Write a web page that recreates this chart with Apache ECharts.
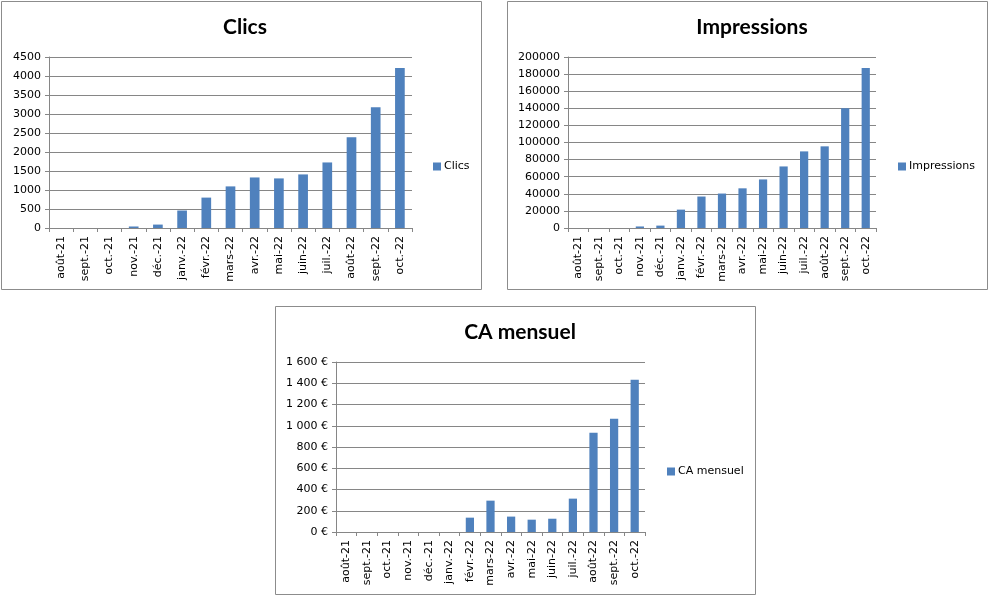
<!DOCTYPE html>
<html>
<head>
<meta charset="utf-8">
<script src="https://cdn.jsdelivr.net/npm/echarts@6/dist/echarts.min.js"></script>
<style>
  html, body { margin: 0; padding: 0; background: #fff; }
  #chart { width: 1002px; height: 605px; }
</style>
</head>
<body>
<div id="chart"></div>
<script>
const months = ['août-21', 'sept.-21', 'oct.-21', 'nov.-21', 'déc.-21', 'janv.-22', 'févr.-22',
    'mars-22', 'avr.-22', 'mai-22', 'juin-22', 'juil.-22', 'août-22', 'sept.-22', 'oct.-22'];
const clics = [0, 0, 0, 40, 90, 460, 800, 1095, 1330, 1305, 1410, 1725, 2390, 3180, 4210];
const impressions = [0, 0, 0, 1800, 2800, 21500, 36800, 40300, 46400, 56800, 72000, 89600, 95500, 140000, 187000];
const caMensuel = [0, 0, 0, 0, 0, 0, 135, 295, 145, 116, 125, 314, 935, 1067, 1434];

const barColor = '#4F81BD';
const lineColor = '#868686';
const axisFont = { fontFamily: 'DejaVu Sans', fontSize: 11, color: '#000' };

function plain(v) {
    return String(v);
}

function euro(v) {
    const s = v >= 1000 ? Math.floor(v / 1000) + ' ' + String(v % 1000).padStart(3, '0') : String(v);
    return s + ' €';
}

function xAxis(idx) {
    return {
        type: 'category', gridIndex: idx, data: months,
        axisLine: { lineStyle: { color: lineColor } },
        axisTick: { show: true, length: 4, lineStyle: { color: lineColor } },
        axisLabel: Object.assign({ rotate: 90, margin: 8, interval: 0 }, axisFont)
    };
}

function yAxis(idx, max, interval, fmt) {
    return {
        type: 'value', gridIndex: idx, min: 0, max: max, interval: interval,
        axisLine: { show: true, lineStyle: { color: lineColor } },
        axisTick: { show: true, length: 4, lineStyle: { color: lineColor } },
        splitLine: { lineStyle: { color: lineColor } },
        axisLabel: Object.assign({ margin: 8, formatter: fmt }, axisFont)
    };
}

function title(text, x, y) {
    return {
        text: text, left: x, top: y, textAlign: 'center',
        textStyle: { fontFamily: 'Lato', fontWeight: 'bold', fontSize: 21, color: '#000' }
    };
}

function legend(name, x, y) {
    return {
        data: [name], left: x, top: y, padding: 0, icon: 'rect', itemWidth: 8, itemHeight: 8,
        textStyle: { fontFamily: 'DejaVu Sans', fontSize: 11, color: '#000', padding: [0, 0, 0, -2] }
    };
}

function box(x, y) {
    return {
        type: 'rect', shape: { x: x, y: y, width: 480, height: 288 },
        style: { fill: 'none', stroke: '#8c8c8c', lineWidth: 1 }, silent: true
    };
}

const chart = echarts.init(document.getElementById('chart'));
chart.setOption({
    animation: false,
    backgroundColor: '#fff',
    graphic: [box(1.5, 1.5), box(507.5, 1.5), box(275.5, 306.5)],
    title: [title('Clics', 240, 12), title('Impressions', 747, 12), title('CA mensuel', 515, 317)],
    legend: [legend('Clics', 433, 161), legend('Impressions', 898, 161), legend('CA mensuel', 667, 466)],
    grid: [
        { left: 49, top: 57, width: 363, height: 171 },
        { left: 568, top: 57, width: 308, height: 171 },
        { left: 336, top: 362, width: 309, height: 170 }
    ],
    xAxis: [xAxis(0), xAxis(1), xAxis(2)],
    yAxis: [
        yAxis(0, 4500, 500, plain),
        yAxis(1, 200000, 20000, plain),
        yAxis(2, 1600, 200, euro)
    ],
    series: [
        { name: 'Clics', type: 'bar', xAxisIndex: 0, yAxisIndex: 0, data: clics, barWidth: '40%', itemStyle: { color: barColor } },
        { name: 'Impressions', type: 'bar', xAxisIndex: 1, yAxisIndex: 1, data: impressions, barWidth: '40%', itemStyle: { color: barColor } },
        { name: 'CA mensuel', type: 'bar', xAxisIndex: 2, yAxisIndex: 2, data: caMensuel, barWidth: '40%', itemStyle: { color: barColor } }
    ]
});
</script>
</body>
</html>
